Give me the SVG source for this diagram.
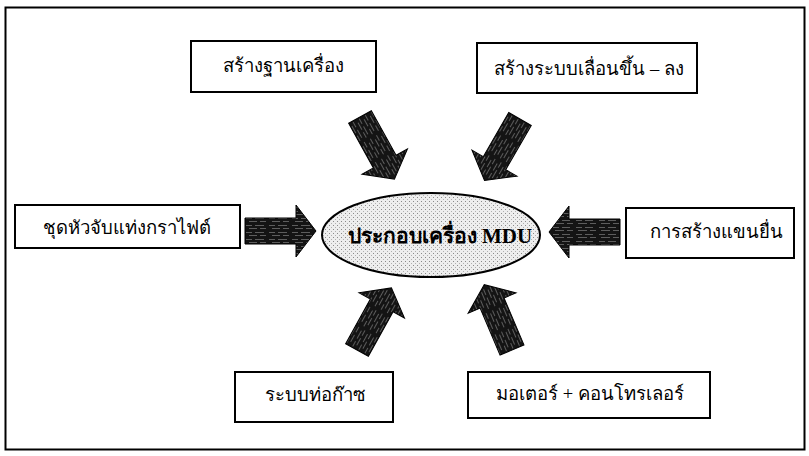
<svg xmlns="http://www.w3.org/2000/svg" width="809" height="456" viewBox="0 0 809 456">
<style>
.box{fill:#fff;stroke:#000;stroke-width:2}
.lbl{font-family:"Liberation Serif","DejaVu Serif","Noto Sans",serif;font-size:18.5px;fill:#000;text-anchor:middle}
.ctr{font-family:"Liberation Serif","DejaVu Serif","Noto Sans",serif;font-size:21px;font-weight:bold;fill:#000;text-anchor:middle}
.arr{fill:url(#scrib);stroke:#000;stroke-width:1}
</style>
<defs>
<pattern id="scrib" patternUnits="userSpaceOnUse" width="23" height="7">
<rect width="23" height="7" fill="#141414"/>
<path d="M1,1.5 H7 M10,1.5 H19 M4,4.5 H12 M15,4.5 H21" stroke="#7d7d7d" stroke-width="0.7"/>
</pattern>
<pattern id="dots" patternUnits="userSpaceOnUse" width="4" height="4">
<rect width="4" height="4" fill="#eeeeee"/>
<rect x="1" y="1" width="1" height="1" fill="#8a8a8a"/>
<rect x="3" y="3" width="1" height="1" fill="#b0b0b0"/>
</pattern>
<path id="arrow" d="M0,-13 H51 V-26 L71,0 L51,26 V13 H0 Z"/>
</defs>
<rect x="0" y="0" width="809" height="456" fill="#fff"/>
<rect x="5.5" y="7.5" width="799" height="442" fill="none" stroke="#000" stroke-width="2"/>

<g id="connectors">
<use href="#arrow" class="arr" transform="translate(245,231)"/>
<use href="#arrow" class="arr" transform="translate(620,232) rotate(180)"/>
<use href="#arrow" class="arr" transform="translate(360,117) rotate(61)"/>
<use href="#arrow" class="arr" transform="translate(520,119) rotate(120)"/>
<use href="#arrow" class="arr" transform="translate(357,350) rotate(-61)"/>
<use href="#arrow" class="arr" transform="translate(512,350) rotate(-113)"/>
</g>

<g id="center">
<ellipse cx="431" cy="235" rx="109" ry="42" fill="url(#dots)" stroke="#000" stroke-width="2"/>
<text class="ctr" x="440" y="243">ประกอบเครื่อง MDU</text>
</g>

<g id="n-top-left">
<rect class="box" x="191" y="41" width="185" height="51"/>
<text class="lbl" x="283" y="72">สร้างฐานเครื่อง</text>
</g>
<g id="n-top-right">
<rect class="box" x="477" y="43" width="220" height="50"/>
<text class="lbl" x="589" y="75">สร้างระบบเลื่อนขึ้น – ลง</text>
</g>
<g id="n-left">
<rect class="box" x="15" y="205" width="225" height="43"/>
<text class="lbl" x="127" y="234">ชุดหัวจับแท่งกราไฟต์</text>
</g>
<g id="n-right">
<rect class="box" x="626" y="208" width="168" height="50"/>
<text class="lbl" x="716" y="238">การสร้างแขนยื่น</text>
</g>
<g id="n-bottom-left">
<rect class="box" x="235" y="372" width="158" height="50"/>
<text class="lbl" x="315" y="401">ระบบท่อก๊าซ</text>
</g>
<g id="n-bottom-right">
<rect class="box" x="468" y="372" width="242" height="46"/>
<text class="lbl" x="590" y="400">มอเตอร์ + คอนโทรเลอร์</text>
</g>
</svg>
